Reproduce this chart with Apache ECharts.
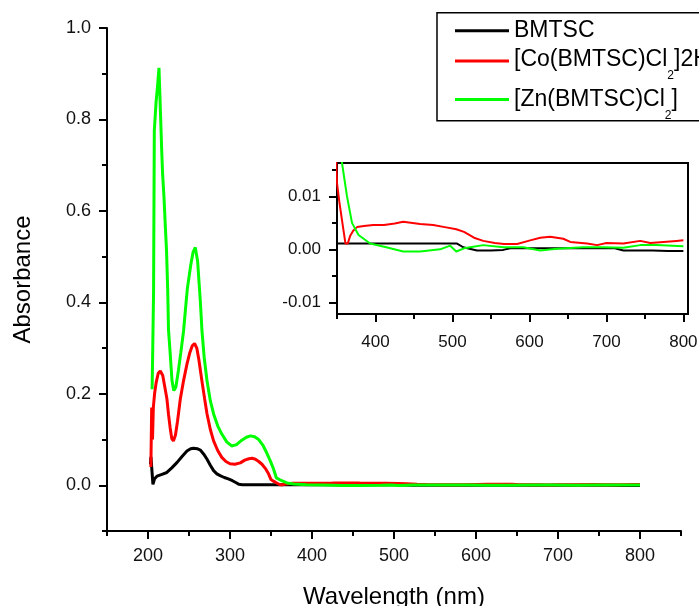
<!DOCTYPE html>
<html>
<head>
<meta charset="utf-8">
<script src="https://cdn.jsdelivr.net/npm/echarts@6/dist/echarts.min.js"></script>
<style>
  html, body { margin: 0; padding: 0; background: #fff; }
  #chart { width: 699px; height: 606px; }
</style>
</head>
<body>
<div id="chart"></div>
<script>
// UV-Vis absorption spectra of the ligand and its Co / Zn complexes
const seriesNames = ['BMTSC', '[Co(BMTSC)Cl2]2H2O', '[Zn(BMTSC)Cl2]'];
const legendLabels = ['BMTSC', '[Co(BMTSC)Cl{sub|2}]2H{sub|2}O', '[Zn(BMTSC)Cl{sub|2}]'];
const seriesColors = ['#000000', '#ff0000', '#00ff00'];

const bmtscWavelength = [203, 203.6, 206, 208, 211, 217, 223, 229, 235.5, 241.5, 247.5, 252, 255.6, 260, 263.8,
  268, 272, 276, 280, 284, 288, 293, 298, 303, 307, 311, 315, 330, 350, 370, 390, 410, 430, 450, 470,
  490, 506, 514, 522, 532, 550, 566, 575, 600, 640, 680, 711, 722, 740, 760, 780, 800];
const bmtscAbsorbance = [0.046, 0.062, 0.002, 0.014, 0.020, 0.024, 0.028, 0.038, 0.050, 0.063, 0.075, 0.080, 0.081, 0.080, 0.077,
  0.068, 0.057, 0.044, 0.032, 0.025, 0.021, 0.017, 0.014, 0.010, 0.006, 0.002, 0.0011, 0.0011, 0.0011, 0.0011, 0.0011, 0.0011, 0.0011, 0.0011, 0.0011,
  0.0011, 0.0011, 0.0004, 0.0001, -0.0002, -0.0002, -0.0001, 0.0002, 0.0002, 0.0002, 0.0002, 0.0002, -0.0002, -0.0002, -0.0002, -0.0003, -0.0003];

const coWavelength = [203.5, 204.5, 205.5, 206.5, 208, 210, 212.5, 215, 218, 220.5, 223, 225, 227, 229, 231,
  233.5, 236, 239.5, 243.5, 247.5, 251, 254, 256.8, 259.5, 262, 264, 266, 269, 272, 276,
  280, 285, 290, 295, 300, 306, 312.6, 318, 323, 327, 331, 335, 339, 343, 347,
  350, 353, 357, 361, 364, 367, 371, 376, 385, 397, 411, 425, 436, 458, 475,
  490, 505, 515, 528, 540, 555, 567, 584, 601, 614, 627, 644, 653, 675, 688,
  700, 722, 744, 757, 774, 791, 800];
const coAbsorbance = [0.04, 0.17, 0.10, 0.17, 0.20, 0.225, 0.245, 0.25, 0.24, 0.215, 0.19, 0.155, 0.126, 0.102, 0.097,
  0.11, 0.14, 0.19, 0.23, 0.265, 0.29, 0.305, 0.31, 0.30, 0.275, 0.25, 0.225, 0.19, 0.156, 0.122,
  0.097, 0.076, 0.061, 0.052, 0.047, 0.046, 0.049, 0.055, 0.058, 0.059, 0.057, 0.052, 0.046, 0.037, 0.025,
  0.0125, 0.009, 0.005, 0.0011, 0.0011, 0.0025, 0.0035, 0.0042, 0.0044, 0.0046, 0.0046, 0.0049, 0.0052, 0.0048, 0.0046,
  0.0042, 0.0038, 0.0033, 0.0022, 0.0016, 0.0012, 0.001, 0.001, 0.0017, 0.0022, 0.0024, 0.002, 0.0014, 0.0011, 0.0008,
  0.0012, 0.0011, 0.0016, 0.0012, 0.0014, 0.0016, 0.0017];

const znWavelength = [205, 205.8, 206.8, 207.7, 209.8, 211.5, 213.4, 215.4, 216.6, 217.8, 219.5, 221, 222.6, 224, 225,
  227, 229.3, 231.5, 234, 237, 240, 243.4, 245.5, 248, 252, 255, 257.7, 260.5, 263.8, 265.8,
  268.5, 272, 276, 280, 285, 290, 296, 302, 308, 314, 320, 325, 330, 335, 340,
  345, 349, 353, 356.5, 363, 369.5, 378, 393, 414, 436, 458, 484, 497, 505, 515,
  523, 540, 566, 592, 614, 636, 670, 696, 722, 744, 765, 800];
const znAbsorbance = [0.21, 0.30, 0.425, 0.775, 0.837, 0.87, 0.913, 0.804, 0.738, 0.681, 0.63, 0.571, 0.513, 0.43, 0.34,
  0.29, 0.228, 0.207, 0.215, 0.25, 0.29, 0.338, 0.381, 0.43, 0.48, 0.51, 0.52, 0.49, 0.403, 0.338,
  0.28, 0.228, 0.185, 0.156, 0.13, 0.112, 0.095, 0.086, 0.089, 0.098, 0.105, 0.108, 0.106, 0.100, 0.088,
  0.070, 0.054, 0.036, 0.0163, 0.010, 0.005, 0.0027, 0.0011, 0.0004, -0.0004, -0.0004, 0.0, 0.0007, -0.0004, 0.0002,
  0.0004, 0.0008, 0.0004, 0.0004, -0.0002, 0.0001, 0.0004, 0.0004, 0.0003, 0.0008, 0.0008, 0.0006];

// tick positions
const mainXTicks = [200, 300, 400, 500, 600, 700, 800];
const mainXMinorTicks = [150, 250, 350, 450, 550, 650, 750, 850];
const mainYTicks = [0.0, 0.2, 0.4, 0.6, 0.8, 1.0];
const mainYMinorTicks = [-0.1, 0.1, 0.3, 0.5, 0.7, 0.9];
const insetXTicks = [400, 500, 600, 700, 800];
const insetXMinorTicks = [350, 450, 550, 650, 750];
const insetYTicks = [-0.01, 0.0, 0.01];
const insetYMinorTicks = [-0.005, 0.005, 0.015];

const FONT = '"Liberation Sans", Arial, sans-serif';
const pairs = (xs, ys) => xs.map((x, i) => [x, ys[i]]);
const seriesData = [
  pairs(bmtscWavelength, bmtscAbsorbance),
  pairs(coWavelength, coAbsorbance),
  pairs(znWavelength, znAbsorbance)
];

function majorAxis(gridIndex, min, max, ticks, digits, margin, fontSize, extra) {
  return Object.assign({
    type: 'value', gridIndex, min, max,
    axisLine: { show: true, onZero: false, lineStyle: { color: '#000', width: 2 } },
    axisTick: { show: true, inside: false, length: 8, customValues: ticks, lineStyle: { color: '#000', width: 2 } },
    axisLabel: {
      show: true, customValues: ticks, margin, color: '#111', fontFamily: FONT, fontSize,
      formatter: v => Number(v).toFixed(digits)
    },
    splitLine: { show: false }
  }, extra || {});
}
function minorAxis(gridIndex, min, max, ticks, extra) {
  return Object.assign({
    type: 'value', gridIndex, min, max,
    axisLine: { show: false, onZero: false },
    axisTick: { show: true, inside: false, length: 5, customValues: ticks, lineStyle: { color: '#000', width: 2 } },
    axisLabel: { show: false },
    splitLine: { show: false }
  }, extra || {});
}

const chart = echarts.init(document.getElementById('chart'), null, { renderer: 'canvas' });

const lineSeries = [];
seriesNames.forEach((name, i) => {
  lineSeries.push({
    name, type: 'line', xAxisIndex: 0, yAxisIndex: 0, data: seriesData[i],
    showSymbol: false, symbol: 'none', lineStyle: { color: seriesColors[i], width: 3 },
    z: 3 + i
  });
});
seriesNames.forEach((name, i) => {
  lineSeries.push({
    name: name + ' (inset)', type: 'line', xAxisIndex: 2, yAxisIndex: 2, data: seriesData[i],
    showSymbol: false, symbol: 'none', lineStyle: { color: seriesColors[i], width: 2 },
    clip: true, z: 10 + i
  });
});

const legendRows = [30.7, 60, 99.5];
const legendGraphics = [
  { type: 'rect', shape: { x: 437, y: 12.7, width: 320, height: 108 },
    style: { fill: '#fff', stroke: '#000', lineWidth: 1.5 }, z: 100 }
];
legendLabels.forEach((label, i) => {
  const ly = legendRows[i] + (i === 1 ? 1 : 0);
  legendGraphics.push({
    type: 'line', shape: { x1: 455, y1: ly, x2: 509, y2: ly },
    style: { stroke: seriesColors[i], lineWidth: 3 }, z: 101
  });
  legendGraphics.push({
    type: 'text', x: 514, y: legendRows[i], z: 101,
    style: {
      text: label, fill: '#000', font: '23px ' + FONT, verticalAlign: 'middle', align: 'left',
      rich: { sub: { fontSize: 12, fontFamily: FONT, fill: '#000', padding: [32, 0, 0, 0] } }
    }
  });
});

chart.setOption({
  animation: false,
  backgroundColor: '#fff',
  grid: [
    { left: 107, top: 28, right: 18, bottom: 75, outerBoundsMode: 'none', containLabel: false },
    { left: 337, top: 163, right: 11, bottom: 292, outerBoundsMode: 'none', containLabel: false,
      show: true, backgroundColor: '#fff', borderColor: '#000', borderWidth: 2, z: 8 }
  ],
  xAxis: [
    majorAxis(0, 150, 850, mainXTicks, 0, 16, 18, {
      position: 'bottom',
      name: 'Wavelength (nm)', nameLocation: 'middle', nameGap: 54,
      nameTextStyle: { fontFamily: FONT, fontSize: 24, color: '#000' }
    }),
    minorAxis(0, 150, 850, mainXMinorTicks, { position: 'bottom' }),
    majorAxis(1, 350, 806, insetXTicks, 0, 20, 17, { position: 'bottom', z: 9 }),
    minorAxis(1, 350, 806, insetXMinorTicks, { position: 'bottom', z: 9 })
  ],
  yAxis: [
    majorAxis(0, -0.1, 1.0, mainYTicks, 1, 16, 18, {
      position: 'left',
      name: 'Absorbance', nameLocation: 'middle', nameGap: 72,
      nameTextStyle: { fontFamily: FONT, fontSize: 24, color: '#000' }
    }),
    minorAxis(0, -0.1, 1.0, mainYMinorTicks, { position: 'left' }),
    majorAxis(1, -0.0122, 0.0163, insetYTicks, 2, 16, 17, { position: 'left', z: 9 }),
    minorAxis(1, -0.0122, 0.0163, insetYMinorTicks, { position: 'left', z: 9 })
  ],
  series: lineSeries,
  graphic: legendGraphics
});
</script>
</body>
</html>
